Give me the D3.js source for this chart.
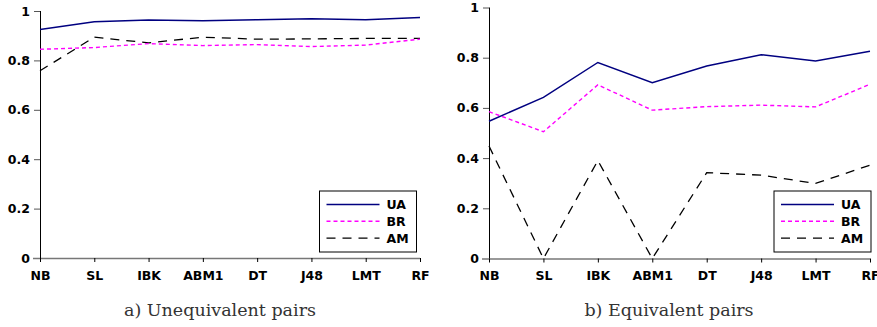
<!DOCTYPE html>
<html>
<head>
<meta charset="utf-8">
<script src="https://cdn.jsdelivr.net/npm/d3@7"></script>
<style>
  body { margin: 0; background: #fff; }
  svg { display: block; }
  .tick text { font-family: "DejaVu Sans", sans-serif; font-weight: bold; font-size: 12.5px; fill: #000; }
  .caption { font-family: "DejaVu Serif", serif; font-size: 17.5px; fill: #333; }
  .legend text { font-family: "DejaVu Sans", sans-serif; font-weight: bold; font-size: 12.5px; }
</style>
</head>
<body>
<svg id="chart" width="877" height="327"></svg>
<script>
const classifiers = ['NB', 'SL', 'IBK', 'ABM1', 'DT', 'J48', 'LMT', 'RF'];
const yTicks = [0, 0.2, 0.4, 0.6, 0.8, 1];
const seriesNames = ['UA', 'BR', 'AM'];

// a) Unequivalent pairs
const unequivUA = [0.925, 0.956, 0.964, 0.961, 0.965, 0.969, 0.965, 0.974];
const unequivBR = [0.845, 0.852, 0.868, 0.860, 0.864, 0.856, 0.862, 0.886];
const unequivAM = [0.758, 0.894, 0.871, 0.894, 0.886, 0.887, 0.889, 0.889];

// b) Equivalent pairs
const equivUA = [0.547, 0.642, 0.781, 0.700, 0.767, 0.812, 0.787, 0.826];
const equivBR = [0.585, 0.505, 0.692, 0.591, 0.605, 0.611, 0.604, 0.694];
const equivAM = [0.448, 0.0, 0.390, 0.0, 0.342, 0.332, 0.299, 0.372];

const styles = {
  UA: { color: '#000080', dash: null, width: 1.5 },
  BR: { color: '#ff00ff', dash: '4,3', width: 1.4 },
  AM: { color: '#000000', dash: '9,7', width: 1.3 }
};

const svg = d3.select('#chart');

function drawPanel(opts) {
  const { x0, x1, yTop, yBottom, data, caption, captionX, legendX } = opts;

  const x = d3.scalePoint().domain(classifiers).range([x0, x1]);
  const y = d3.scaleLinear().domain([0, 1]).range([yBottom, yTop]);

  const g = svg.append('g');

  // x axis (gray line, dark ticks)
  const xAxis = g.append('g')
    .attr('transform', `translate(0,${yBottom})`)
    .call(d3.axisBottom(x).tickSize(4).tickPadding(9));
  xAxis.select('.domain').attr('stroke', '#777').attr('stroke-width', 1.3)
    .attr('d', `M${x0 - 7},0.5H${x1}`);
  xAxis.selectAll('.tick line').attr('stroke', '#000');

  // y axis
  const yAxis = g.append('g')
    .attr('transform', `translate(${x0},0)`)
    .call(d3.axisLeft(y).tickValues(yTicks).tickFormat(d3.format('')).tickSize(6).tickPadding(4));
  yAxis.select('.domain').attr('stroke', '#000').attr('d', `M0.5,${yBottom}V${yTop}`);
  yAxis.selectAll('.tick line').attr('stroke', '#555');
  yAxis.selectAll('.tick').filter(d => d === 0).select('line').remove();

  const line = d3.line()
    .x((d, i) => x(classifiers[i]))
    .y(d => y(d));

  ['AM', 'BR', 'UA'].forEach(name => {
    const s = styles[name];
    g.append('path')
      .datum(data[name])
      .attr('fill', 'none')
      .attr('stroke', s.color)
      .attr('stroke-width', s.width)
      .attr('stroke-dasharray', s.dash)
      .attr('d', line);
  });

  // legend
  const lg = g.append('g').attr('class', 'legend').attr('transform', `translate(${legendX},191)`);
  lg.append('rect')
    .attr('width', 97).attr('height', 61)
    .attr('fill', '#fff').attr('stroke', '#000').attr('stroke-width', 1);
  seriesNames.forEach((name, i) => {
    const s = styles[name];
    const ly = 13.5 + i * 16.8;
    lg.append('line')
      .attr('x1', 7).attr('x2', 60).attr('y1', ly).attr('y2', ly)
      .attr('stroke', s.color).attr('stroke-width', s.width)
      .attr('stroke-dasharray', s.dash);
    lg.append('text').attr('x', 67).attr('y', ly + 4.5).text(name);
  });

  svg.append('text')
    .attr('class', 'caption')
    .attr('x', captionX).attr('y', 316)
    .attr('text-anchor', 'middle')
    .text(caption);
}

drawPanel({
  x0: 40, x1: 420, yTop: 11, yBottom: 258,
  data: { UA: unequivUA, BR: unequivBR, AM: unequivAM },
  caption: 'a) Unequivalent pairs', captionX: 220, legendX: 319.5
});

drawPanel({
  x0: 489, x1: 870, yTop: 7.5, yBottom: 258.5,
  data: { UA: equivUA, BR: equivBR, AM: equivAM },
  caption: 'b) Equivalent pairs', captionX: 669, legendX: 774
});
</script>
</body>
</html>
